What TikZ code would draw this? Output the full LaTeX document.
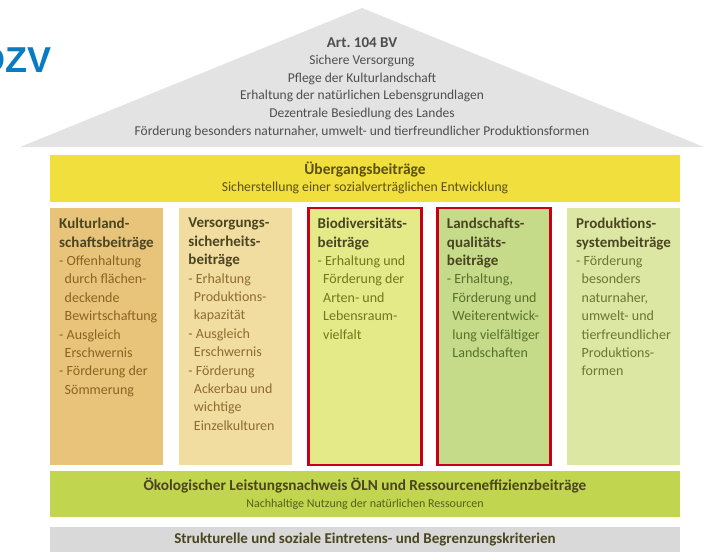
\documentclass[tikz,border=0pt]{standalone}
\usepackage{fontspec}
\setmainfont{Carlito}
\newfontfamily\logofont{Liberation Sans}
\usetikzlibrary{positioning}

\definecolor{roofgray}{HTML}{E3E3E3}
\definecolor{roofink}{HTML}{4E4E4E}
\definecolor{dzvblue}{HTML}{0A7BC2}
\definecolor{transyellow}{HTML}{F0DF3C}
\definecolor{transink}{HTML}{5C5012}
\definecolor{pOne}{HTML}{E8C47A}
\definecolor{pTwo}{HTML}{F2DDA0}
\definecolor{pThree}{HTML}{E4EA88}
\definecolor{pFour}{HTML}{C6DB8A}
\definecolor{pFive}{HTML}{DCE7A4}
\definecolor{inkOne}{HTML}{8C6224}
\definecolor{inkTwo}{HTML}{8E6C2E}
\definecolor{inkThree}{HTML}{72761E}
\definecolor{inkFour}{HTML}{55702A}
\definecolor{inkFive}{HTML}{6A7632}
\definecolor{headink}{HTML}{4A4420}
\definecolor{oelngreen}{HTML}{C2D54E}
\definecolor{oelnink}{HTML}{55601A}
\definecolor{basegray}{HTML}{D9D9D9}
\definecolor{markred}{HTML}{C4001A}

\def\ind{\hspace*{5.5pt}}
\newcommand\pillarhead[1]{{\color{headink}\bfseries\fontsize{15}{18.4}\selectfont #1}}

\tikzset{
  band/.style={minimum width=630pt, inner sep=0pt, outer sep=0pt, align=center},
  pillar/.style={minimum width=113pt, minimum height=257pt, inner sep=0pt, outer sep=0pt},
  pillartext/.style={anchor=north west, inner sep=0pt, align=left,
                     font=\fontsize{14}{18.4}\selectfont},
  marked/.style={draw=markred, line width=2.6pt},
}

\begin{document}
\begin{tikzpicture}[x=1pt, y=-1pt]
  \useasboundingbox (0,0) rectangle (705,552);

  % logo, cut at the left edge
  \node[anchor=base east, inner sep=0pt, text=dzvblue,
        font=\logofont\bfseries\fontsize{36}{36}\selectfont] (dzv) at (52,72) {DZV};

  % roof
  \coordinate (eaveL) at (20,147);
  \coordinate (ridge) at (362,8);
  \coordinate (eaveR) at (704,147);
  \fill[roofgray] (eaveL) -- (ridge) -- (eaveR) -- cycle;
  \node[anchor=north, inner sep=0pt, align=center, text=roofink,
        font=\fontsize{13.5}{17.6}\selectfont] (art) at (362,37)
    {\textbf{\fontsize{15}{17.6}\selectfont Art.\ 104 BV}\\ Sichere Versorgung\\ Pflege der Kulturlandschaft\\
     Erhaltung der natürlichen Lebensgrundlagen\\ Dezentrale Besiedlung des Landes\\
     Förderung besonders naturnaher, umwelt- und tierfreundlicher Produktionsformen};

  % transition band
  \node[band, fill=transyellow, minimum height=47pt, text=transink,
        font=\fontsize{13.7}{17}\selectfont] (trans) at (365,178)
    {\textbf{\fontsize{15.5}{17}\selectfont Übergangsbeiträge}\\ Sicherstellung einer sozialverträglichen Entwicklung};

  % pillars
  \node[pillar, anchor=north west, fill=pOne] (p1) at (50,208) {};
  \node[pillar, fill=pTwo, right=16.25pt of p1] (p2) {};
  \node[pillar, fill=pThree, marked, right=16.25pt of p2] (p3) {};
  \node[pillar, fill=pFour, marked, right=16.25pt of p3] (p4) {};
  \node[pillar, fill=pFive, right=16.25pt of p4] (p5) {};

  \node[pillartext, text=inkOne] (t1) at ([shift={(9,10)}]p1.north west)
    {\pillarhead{Kulturland-}\\ \pillarhead{schaftsbeiträge}\\
     - Offenhaltung\\ \ind durch flächen-\\ \ind deckende\\ \ind Bewirtschaftung\\
     - Ausgleich\\ \ind Erschwernis\\ - Förderung der\\ \ind Sömmerung};
  \node[pillartext, text=inkTwo] (t2) at ([shift={(9,10)}]p2.north west)
    {\pillarhead{Versorgungs-}\\ \pillarhead{sicherheits-}\\ \pillarhead{beiträge}\\
     - Erhaltung\\ \ind Produktions-\\ \ind kapazität\\ - Ausgleich\\ \ind Erschwernis\\
     - Förderung\\ \ind Ackerbau und\\ \ind wichtige\\ \ind Einzelkulturen};
  \node[pillartext, text=inkThree] (t3) at ([shift={(9,10)}]p3.north west)
    {\pillarhead{Biodiversitäts-}\\ \pillarhead{beiträge}\\
     - Erhaltung und\\ \ind Förderung der\\ \ind Arten- und\\ \ind Lebensraum-\\ \ind vielfalt};
  \node[pillartext, text=inkFour] (t4) at ([shift={(9,10)}]p4.north west)
    {\pillarhead{Landschafts-}\\ \pillarhead{qualitäts-}\\ \pillarhead{beiträge}\\
     - Erhaltung,\\ \ind Förderung und\\ \ind Weiterentwick-\\ \ind lung vielfältiger\\ \ind Landschaften};
  \node[pillartext, text=inkFive] (t5) at ([shift={(9,10)}]p5.north west)
    {\pillarhead{Produktions-}\\ \pillarhead{systembeiträge}\\
     - Förderung\\ \ind besonders\\ \ind naturnaher,\\ \ind umwelt- und\\ \ind tierfreundlicher\\
     \ind Produktions-\\ \ind formen};

  % foundation bands
  \node[band, fill=oelngreen, minimum height=46pt, text=oelnink,
        font=\fontsize{12}{17}\selectfont] (oeln) at (365,494)
    {\textbf{\fontsize{15.3}{17}\selectfont\color{headink}Ökologischer Leistungsnachweis ÖLN und Ressourceneffizienzbeiträge}\\
     Nachhaltige Nutzung der natürlichen Ressourcen};
  \node[band, fill=basegray, minimum height=27pt, text=headink,
        font=\bfseries\fontsize{15}{18}\selectfont] (base) at (365,540)
    {Strukturelle und soziale Eintretens- und Begrenzungskriterien};
\end{tikzpicture}
\end{document}
